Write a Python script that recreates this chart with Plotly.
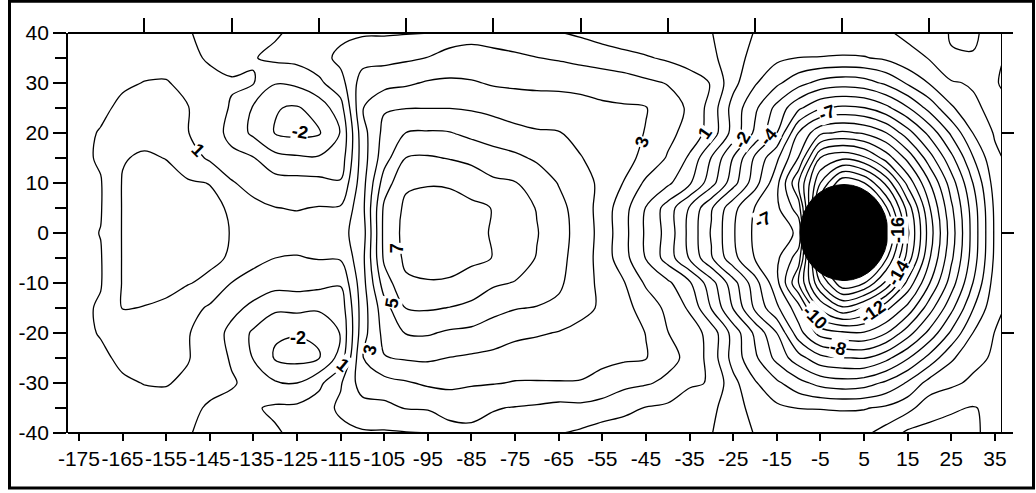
import plotly.graph_objects as go

# Grid longitudes (deg) and latitudes (deg, north to south)
lon = [-180, -175, -170, -165, -160, -155, -150, -145, -140, -135, -130, -125,
       -120, -115, -110, -105, -100, -95, -90, -85, -80, -75, -70, -65, -60,
       -55, -50, -45, -40, -35, -30, -25, -20, -15, -10, -5, 0, 5, 10, 15, 20,
       25, 30, 35, 36.5]
lat = [40, 35, 30, 25, 20, 15, 10, 5, 0, -5, -10, -15, -20, -25, -30, -35, -40]

# Field values, one list per longitude, ordered like `lat`
z_by_lon = [
    [0.6, 0.6, 0.6, 0.6, 0.6, 0.6, 0.6, 0.6, 0.6, 0.6, 0.6, 0.6, 0.6, 0.6, 0.6, 0.6, 0.6],
    [0.6, 0.6, 0.65, 0.75, 0.8, 0.8, 0.75, 0.75, 0.8, 0.75, 0.75, 0.8, 0.8, 0.75, 0.65, 0.6, 0.6],
    [0.55, 0.6, 0.7, 0.85, 1.05, 1.1, 0.95, 0.95, 1.02, 0.95, 0.95, 1.1, 1.05, 0.85, 0.7, 0.6, 0.55],
    [0.55, 0.7, 0.9, 1.15, 1.5, 1.95, 2.05, 2.05, 2.05, 2.05, 2.05, 2.03, 1.5, 1.15, 0.9, 0.7, 0.55],
    [0.6, 0.75, 1.02, 1.4, 1.75, 2.1, 2.2, 2.3, 2.3, 2.3, 2.2, 1.98, 1.75, 1.4, 1.02, 0.75, 0.6],
    [0.4, 0.7, 1.05, 1.3, 1.55, 1.98, 2.25, 2.35, 2.4, 2.35, 2.15, 1.9, 1.55, 1.3, 1.05, 0.7, 0.4],
    [0.05, 0.2, 0.8, 1.03, 1.02, 1.45, 2.1, 2.3, 2.35, 2.3, 2.05, 1.4, 1.05, 1.05, 0.85, 0.2, 0.05],
    [-0.2, -0.1, 0.25, 0.55, 0.6, 0.85, 1.98, 2.2, 2.25, 2.2, 1.8, 0.85, 0.6, 0.55, 0.25, -0.1, -0.2],
    [-0.35, -0.3, 0.1, -0.1, -0.35, 0.3, 1.1, 1.9, 1.97, 1.9, 0.98, 0.3, -0.3, -0.1, 0.1, -0.3, -0.35],
    [-0.3, -0.05, 0.05, -1.1, -1.2, 0.05, 0.6, 1.3, 1.65, 1.3, 0.6, -0.25, -1.15, -1.05, -0.3, -0.1, -0.3],
    [-0.1, 0.2, -0.95, -1.95, -2.05, -0.7, 0.4, 1.02, 1.5, 1.0, 0.35, -0.8, -1.9, -2.1, -0.9, 0.15, -0.1],
    [0.2, 0.3, -0.8, -2.1, -2.25, -0.85, 0.35, 0.95, 1.4, 0.95, 0.4, -0.75, -1.95, -2.3, -1.0, 0.2, 0.2],
    [0.45, 0.55, -0.2, -1.6, -2.1, -0.9, 0.3, 1.05, 1.45, 1.05, 0.3, -0.85, -1.9, -2.05, -0.25, 0.5, 0.45],
    [0.7, 1.3, 0.6, -0.4, -0.95, -0.6, 0.1, 1.1, 1.7, 1.1, 0.1, -0.6, -0.95, -0.6, 0.9, 1.2, 0.7],
    [0.9, 1.6, 2.5, 2.95, 2.6, 2.5, 2.6, 2.7, 2.5, 2.7, 2.6, 2.5, 2.6, 2.95, 2.5, 1.6, 0.9],
    [0.9, 1.72, 2.65, 3.9, 4.3, 4.6, 5.5, 6.2, 6.3, 6.2, 5.5, 4.6, 4.3, 3.95, 2.65, 1.72, 0.9],
    [0.95, 1.85, 2.85, 3.97, 5.02, 6.02, 6.85, 7.2, 7.3, 7.2, 6.85, 6.02, 5.05, 4.1, 2.9, 2.05, 0.95],
    [0.98, 2.03, 3.1, 3.98, 5.1, 6.1, 6.95, 7.3, 7.4, 7.3, 6.95, 6.1, 5.1, 4.15, 3.15, 2.1, 0.98],
    [1.7, 2.2, 3.2, 3.98, 5.05, 5.95, 6.9, 7.35, 7.45, 7.35, 6.9, 5.97, 4.85, 3.97, 3.25, 2.3, 1.7],
    [1.75, 2.3, 3.1, 3.9, 4.75, 5.75, 6.6, 7.2, 7.35, 7.2, 6.6, 5.75, 4.75, 3.85, 3.1, 2.35, 1.75],
    [1.7, 2.2, 2.9, 3.7, 4.6, 5.35, 6.2, 6.97, 6.9, 6.98, 6.15, 5.3, 4.5, 3.75, 3.05, 2.05, 1.7],
    [1.5, 2.15, 2.85, 3.5, 4.3, 5.2, 6.05, 6.5, 6.5, 6.5, 5.95, 5.05, 4.25, 3.5, 2.95, 1.95, 1.5],
    [1.3, 2.02, 2.8, 3.45, 4.1, 4.85, 5.6, 5.95, 6.05, 5.95, 5.6, 4.95, 4.1, 3.45, 2.95, 1.85, 1.3],
    [1.05, 1.9, 2.75, 3.5, 4.05, 4.5, 4.95, 5.3, 5.4, 5.3, 5.2, 4.75, 3.95, 3.5, 2.95, 1.7, 1.05],
    [0.85, 1.7, 2.75, 3.3, 3.7, 4.05, 4.35, 4.55, 4.6, 4.55, 4.35, 4.2, 3.8, 3.35, 2.95, 1.75, 0.85],
    [0.6, 1.5, 2.65, 3.15, 3.35, 3.6, 3.8, 3.6, 3.65, 3.6, 3.8, 3.9, 3.4, 3.15, 2.8, 1.5, 0.6],
    [0.4, 1.3, 2.5, 3.1, 3.4, 3.3, 2.95, 2.35, 2.3, 2.35, 3.05, 3.3, 3.4, 3.15, 2.25, 1.3, 0.4],
    [0.25, 1.1, 2.2, 3.05, 2.95, 2.75, 1.8, 0.95, 0.85, 0.95, 1.85, 2.6, 2.98, 3.05, 2.1, 0.95, 0.25],
    [0.2, 0.85, 1.95, 2.45, 2.3, 1.9, 1.2, -0.45, -0.35, -0.45, 1.2, 1.75, 2.02, 2.3, 1.8, 0.8, 0.2],
    [0.1, 0.6, 1.45, 1.85, 1.6, 0.85, 0.15, -2.1, -2.3, -2.1, 0.15, 0.85, 1.55, 1.75, 1.1, 0.6, 0.1],
    [0.03, 0.2, 0.95, 0.6, 0.6, -1.05, -1.6, -3.9, -4.1, -3.9, -1.6, -1.05, 0.6, 0.6, 0.95, 0.2, 0.03],
    [-0.5, -0.5, -0.7, -1.4, -1.4, -3.05, -3.6, -5.7, -5.9, -5.7, -3.6, -3.05, -1.4, -1.4, -0.7, -0.5, -0.5],
    [-1.05, -1.4, -1.9, -2.8, -3.2, -5.2, -5.6, -7.05, -7.2, -7.05, -5.6, -5.2, -3.2, -2.8, -1.9, -1.4, -1.05],
    [-1.2, -1.8, -2.8, -4.3, -5.0, -6.8, -7.7, -7.8, -7.4, -7.8, -7.7, -6.8, -5.0, -4.3, -2.8, -1.8, -1.2],
    [-1.3, -2.02, -3.66, -5.8, -8.05, -9.05, -11.0, -9.5, -8.2, -9.5, -11.0, -8.6, -7.6, -5.6, -3.66, -2.02, -1.3],
    [-1.2, -2.05, -4.34, -6.9, -9.8, -13.05, -15.0, -17.0, -18.5, -17.0, -15.0, -12.2, -9.4, -6.7, -4.34, -2.05, -1.2],
    [-1.25, -2.1, -4.6, -7.2, -10.2, -13.8, -17.8, -19.5, -20.5, -19.5, -17.8, -13.8, -9.8, -6.95, -4.6, -2.1, -1.25],
    [-1.21, -2.06, -4.44, -7.05, -9.9, -13.2, -17.05, -19.0, -20.0, -19.0, -17.05, -12.9, -9.9, -7.05, -4.44, -2.06, -1.21],
    [-1.12, -1.84, -3.82, -6.3, -9.06, -11.6, -14.8, -17.2, -18.4, -17.2, -14.8, -11.3, -9.06, -6.3, -3.82, -1.84, -0.6],
    [-0.8, -1.3, -2.87, -5.1, -7.44, -9.7, -11.7, -13.6, -14.2, -13.6, -11.7, -9.7, -7.44, -5.1, -2.87, -1.3, 0.2],
    [-0.67, -0.95, -1.94, -3.66, -5.7, -7.44, -9.05, -10.1, -10.5, -10.1, -9.05, -7.44, -5.7, -3.66, -1.6, -0.4, 0.3],
    [0.1, -0.1, -1.1, -2.15, -3.82, -5.28, -6.5, -7.2, -7.5, -7.2, -6.5, -5.28, -3.82, -2.15, -1.2, -0.1, 0.3],
    [0.12, -0.05, -0.9, -1.2, -1.98, -3.05, -3.98, -4.5, -4.6, -4.5, -3.98, -3.05, -1.98, -1.3, -0.8, 0.05, 0.15],
    [-0.3, -0.1, -0.2, -0.7, -0.9, -1.2, -1.55, -1.8, -1.85, -1.8, -1.55, -1.25, -0.97, -0.85, -0.5, -0.2, -0.3],
    [-0.27, -0.07, 0.16, -0.52, -0.75, -1.02, -1.4, -1.55, -1.6, -1.55, -1.4, -1.05, -0.85, -0.7, -0.4, -0.1, -0.27],
]

# Axis ticks
x_tick_vals = [-175, -165, -155, -145, -135, -125, -115, -105, -95, -85, -75,
               -65, -55, -45, -35, -25, -15, -5, 5, 15, 25, 35]
x_tick_text = ["-175", "-165", "-155", "-145", "-135", "-125", "-115", "-105",
               "-95", "-85", "-75", "-65", "-55", "-45", "-35", "-25", "-15",
               "-5", "5", "15", "25", "35"]
y_tick_vals = [-40, -30, -20, -10, 0, 10, 20, 30, 40]
y_tick_text = ["-40", "-30", "-20", "-10", "0", "10", "20", "30", "40"]
y_minor_vals = [-35, -25, -15, -5, 5, 15, 25, 35]
top_tick_vals = [-160, -140, -120, -100, -80, -60, -40, -20, 0, 20]
right_tick_vals = [-20, 0, 20]

# Contour labels: text, lon, lat, rotation (deg)
label_text = ["1", "-2", "-2", "1", "3", "5", "7", "3", "1", "-2", "-4",
              "-7", "-7", "-16", "-14", "-12", "-10", "-8"]
label_lon = [-147.7, -124.3, -124.8, -114.5, -108.3, -103.2, -102.0, -45.9,
             -31.5, -23.0, -17.0, -3.5, -18.2, 12.8, 12.8, 7.0, -6.3, -1.0]
label_lat = [16.6, 20.2, -21.0, -26.4, -23.4, -14.0, -3.0, 18.2, 20.0, 18.6,
             19.3, 24.0, 2.6, 0.6, -8.0, -15.8, -16.8, -23.0]
label_angle = [45, 10, 0, 40, -75, -80, -90, -70, -55, -60, -50, -20, -25,
               -90, -60, -35, 45, 15]

# Blanked region around the source
blank_center = (0.4, 0.1)
blank_half_width = 10.1
blank_half_height = 9.6

z_rows = [list(r) for r in zip(*z_by_lon)]

fig = go.Figure()
fig.add_trace(go.Contour(
    x=lon, y=lat[::-1], z=z_rows[::-1],
    autocontour=False,
    contours=dict(start=-30, end=10, size=1, coloring="lines", showlabels=False),
    colorscale=[[0, "black"], [1, "black"]],
    showscale=False,
    line=dict(width=1.3, smoothing=1.0),
    hoverinfo="skip",
))
# empty trace so the top and right tick axes are drawn
fig.add_trace(go.Scatter(x=[None], y=[None], xaxis="x2", yaxis="y2",
                         mode="markers", showlegend=False, hoverinfo="skip"))

tick_font = dict(family="Liberation Sans, Arial, sans-serif", size=21, color="black")
x_range = [-177.5, 36.4]
y_range = [-40, 40]

fig.update_layout(
    width=1036, height=493,
    margin=dict(l=68, r=35, t=33, b=60),
    paper_bgcolor="white", plot_bgcolor="white",
    showlegend=False,
    xaxis=dict(range=x_range, tickmode="array", tickvals=x_tick_vals,
               ticktext=x_tick_text, tickangle=0,
               ticks="outside", ticklen=7, tickwidth=1.5, tickcolor="black",
               showgrid=False, zeroline=False, showline=False,
               tickfont=tick_font),
    yaxis=dict(range=y_range, tickmode="array", tickvals=y_tick_vals,
               ticktext=y_tick_text,
               ticks="outside", ticklen=13, tickwidth=1.5, tickcolor="black",
               minor=dict(tickmode="array", tickvals=y_minor_vals, ticklen=11,
                          ticks="outside", tickwidth=1.5, tickcolor="black",
                          showgrid=False),
               showgrid=False, zeroline=False, showline=True, linewidth=1.8,
               linecolor="black", tickfont=tick_font),
    xaxis2=dict(overlaying="x", side="top", anchor="y", range=x_range,
                tickmode="array", tickvals=top_tick_vals, ticks="outside",
                ticklen=14, tickwidth=1.5, tickcolor="black",
                showticklabels=False, showgrid=False, zeroline=False,
                showline=False),
    yaxis2=dict(overlaying="y", side="right", anchor="x", range=y_range,
                tickmode="array", tickvals=right_tick_vals, ticks="outside",
                ticklen=12, tickwidth=1.5, tickcolor="black",
                showticklabels=False, showgrid=False, zeroline=False,
                showline=True, linewidth=1.3, linecolor="black"),
)

right_end = (1013 - 68) / 933
shapes = [
    # top and bottom frame lines, running past the data edge to the tick ends
    dict(type="line", xref="paper", yref="paper", x0=0, x1=right_end, y0=1, y1=1,
         line=dict(color="black", width=1.8)),
    dict(type="line", xref="paper", yref="paper", x0=0, x1=right_end, y0=0, y1=0,
         line=dict(color="black", width=1.8)),
    # outer border of the figure
    dict(type="rect", xref="paper", yref="paper",
         x0=(9.5 - 68) / 933, x1=(1033.5 - 68) / 933,
         y0=(433 - 488) / 400, y1=(433 - 1.3) / 400,
         line=dict(color="black", width=3), fillcolor="rgba(0,0,0,0)"),
    # blanked disc
    dict(type="circle", xref="x", yref="y",
         x0=blank_center[0] - blank_half_width, x1=blank_center[0] + blank_half_width,
         y0=blank_center[1] - blank_half_height, y1=blank_center[1] + blank_half_height,
         fillcolor="black", line=dict(color="black", width=1), layer="above"),
]
fig.update_layout(shapes=shapes)

for t, lx, ly, ang in zip(label_text, label_lon, label_lat, label_angle):
    fig.add_annotation(x=lx, y=ly, xref="x", yref="y", text="<b>%s</b>" % t,
                       showarrow=False, textangle=ang, bgcolor="white",
                       borderpad=0,
                       font=dict(family="Liberation Sans, Arial, sans-serif",
                                 size=18, color="black"))

fig.write_html("out.html")
